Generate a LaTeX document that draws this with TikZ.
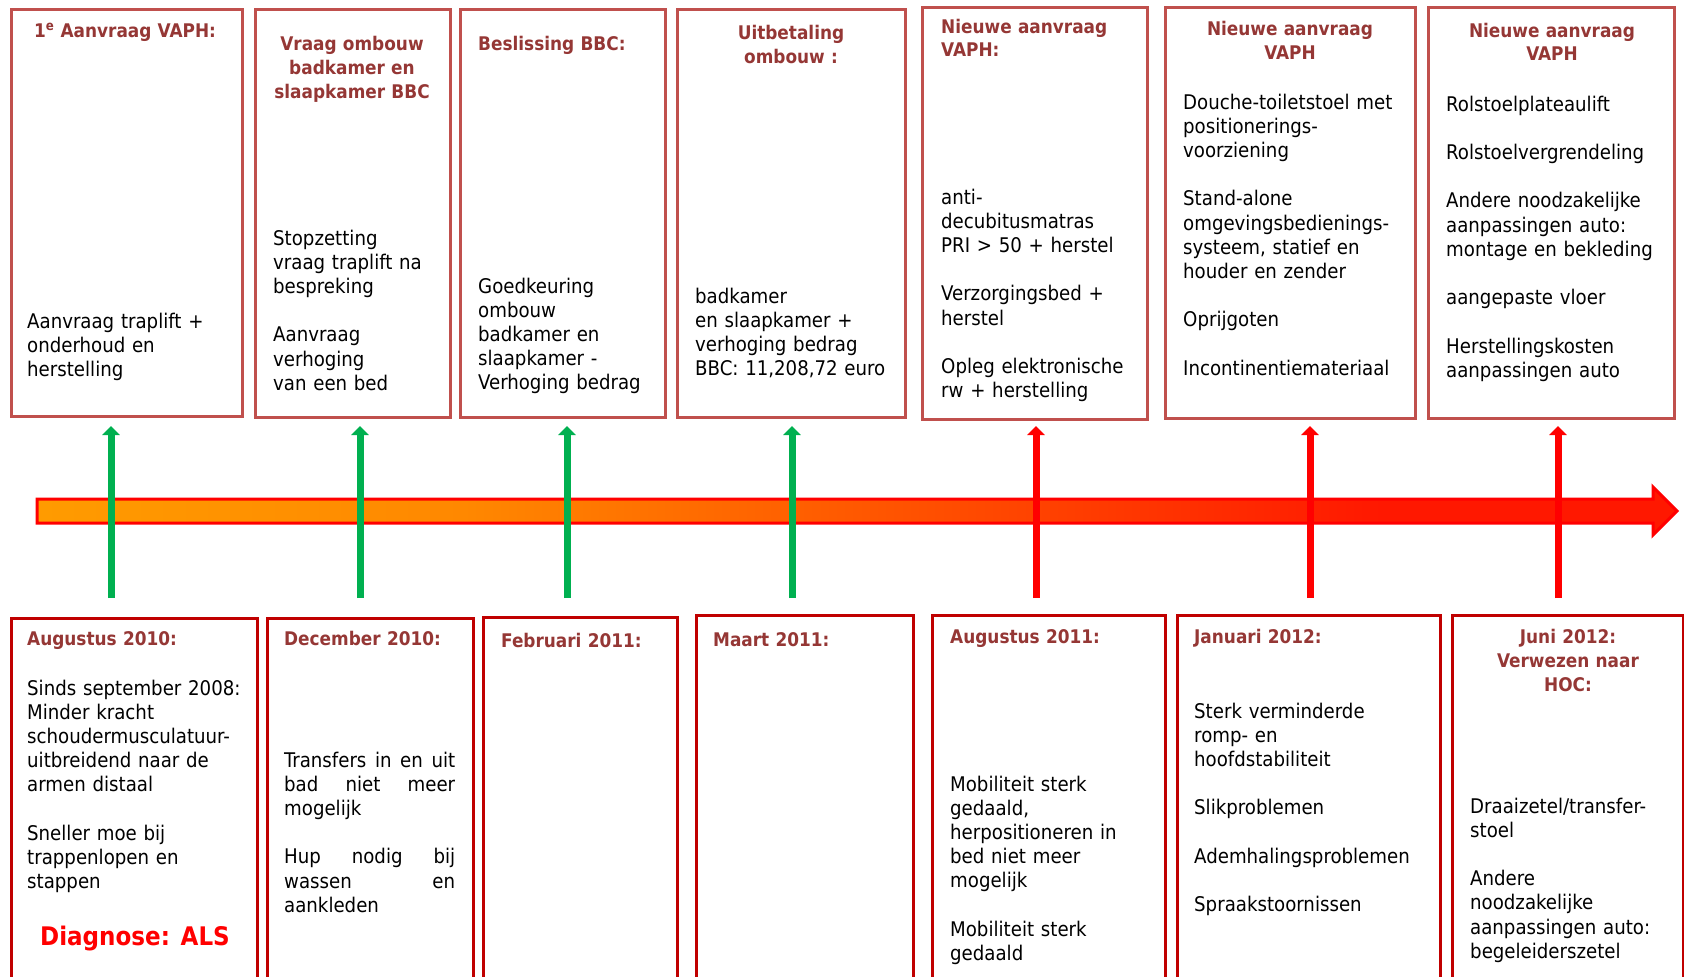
\documentclass[tikz,border=0pt]{standalone}
\usepackage{fontspec}
\setmainfont{DejaVu Sans Condensed}
\usetikzlibrary{arrows.meta}
\definecolor{topred}{HTML}{C0504D}
\definecolor{botred}{HTML}{C00000}
\definecolor{hdrred}{HTML}{953735}
\definecolor{agreen}{HTML}{00B050}
\definecolor{ared}{HTML}{FF0000}
\definecolor{barY}{HTML}{FFC000}
\definecolor{barO}{HTML}{FF8800}
\definecolor{barR}{HTML}{FF1800}
\pgfdeclarehorizontalshading{barshade}{100bp}{color(0bp)=(barY); color(38bp)=(barO); color(66bp)=(barR); color(100bp)=(barR)}
\begin{document}
\begin{tikzpicture}[x=1pt,y=-1pt,
  box/.style={draw, line width=3pt, anchor=north west, inner sep=0pt, outer sep=0pt, rectangle},
  topbox/.style={box, draw=topred},
  botbox/.style={box, draw=botred},
  hdrL/.style={inner sep=0pt, anchor=base west, text=hdrred, align=left, text width=230pt,
    font=\fontsize{18.8}{24}\selectfont\bfseries},
  hdrC/.style={inner sep=0pt, anchor=base, text=hdrred, align=center, text width=240pt,
    font=\fontsize{18.8}{24}\selectfont\bfseries},
  body/.style={inner sep=0pt, anchor=base west, align=left, text width=240pt,
    font=\fontsize{20.2}{24.2}\selectfont},
  garrow/.style={draw=agreen, line width=7pt, -{Triangle[width=17pt,length=9pt]}},
  rarrow/.style={draw=ared, line width=7pt, -{Triangle[width=17pt,length=9pt]}},
]
\useasboundingbox (0,0) rectangle (1684,977);
\clip (0,0) rectangle (1684,977);
\def\gap{\\[24.2pt]}

% ---------- top boxes ----------
\node[topbox, minimum width=231pt, minimum height=407pt] (tb1) at (11,9) {};
\node[topbox, minimum width=195pt, minimum height=408pt] (tb2) at (255,9) {};
\node[topbox, minimum width=205pt, minimum height=408pt] (tb3) at (460,9) {};
\node[topbox, minimum width=228pt, minimum height=408pt] (tb4) at (677,9) {};
\node[topbox, minimum width=225pt, minimum height=412pt] (tb5) at (922,7) {};
\node[topbox, minimum width=250pt, minimum height=411pt] (tb6) at (1165,7) {};
\node[topbox, minimum width=246pt, minimum height=411pt] (tb7) at (1428,7) {};

% ---------- bottom boxes ----------
\node[botbox, minimum width=246pt, minimum height=420pt] (bb1) at (11,618) {};
\node[botbox, minimum width=206pt, minimum height=420pt] (bb2) at (267,618) {};
\node[botbox, minimum width=194pt, minimum height=420pt] (bb3) at (483,617) {};
\node[botbox, minimum width=217pt, minimum height=420pt] (bb4) at (696,615) {};
\node[botbox, minimum width=233pt, minimum height=420pt] (bb5) at (932,615) {};
\node[botbox, minimum width=263pt, minimum height=420pt] (bb6) at (1177,615) {};
\node[botbox, minimum width=231pt, minimum height=420pt] (bb7) at (1452,615) {};

% ---------- timeline ----------
\shade[shading=barshade, draw=ared, line width=3pt, line join=miter]
  (37,499) -- (1653,499) -- (1653,487) -- (1677,511) -- (1653,535) -- (1653,523) -- (37,523) -- cycle;

% ---------- vertical arrows ----------
\foreach \n/\x in {1/111,2/360,3/567,4/792,5/1036,6/1310,7/1558}{
  \coordinate (a\n b) at (\x,598);
  \coordinate (a\n t) at (\x,426);
}
\draw[garrow] (a1b) -- (a1t);
\draw[garrow] (a2b) -- (a2t);
\draw[garrow] (a3b) -- (a3t);
\draw[garrow] (a4b) -- (a4t);
\draw[rarrow] (a5b) -- (a5t);
\draw[rarrow] (a6b) -- (a6t);
\draw[rarrow] (a7b) -- (a7t);

% ---------- top texts ----------
\node[hdrC] (th1) at (125,37) {1\textsuperscript{e} Aanvraag VAPH:};
\node[body] (tt1) at (27,328) {Aanvraag traplift +\\onderhoud en\\herstelling};

\node[hdrC] (th2) at (352,50) {Vraag ombouw\\badkamer en\\slaapkamer BBC};
\node[body] (tt2) at (273,245) {Stopzetting\\vraag traplift na\\bespreking\gap Aanvraag\\verhoging\\van een bed};

\node[hdrL] (th3) at (478,50) {Beslissing BBC:};
\node[body] (tt3) at (478,293) {Goedkeuring\\ombouw\\badkamer en\\slaapkamer -\\Verhoging bedrag};

\node[hdrC] (th4) at (791,39) {Uitbetaling\\ombouw :};
\node[body] (tt4) at (695,303) {badkamer\\en slaapkamer +\\verhoging bedrag\\BBC: 11,208,72 euro};

\node[hdrL] (th5) at (941,33) {Nieuwe aanvraag\\VAPH:};
\node[body] (tt5) at (941,204) {anti-\\decubitusmatras\\PRI > 50 + herstel\gap Verzorgingsbed +\\herstel\gap Opleg elektronische\\rw + herstelling};

\node[hdrC] (th6) at (1290,35) {Nieuwe aanvraag\\VAPH};
\node[body] (tt6) at (1183,109) {Douche-toiletstoel met\\positionerings-\\voorziening\gap Stand-alone\\omgevingsbedienings-\\systeem, statief en\\houder en zender\gap Oprijgoten\gap Incontinentiemateriaal};

\node[hdrC] (th7) at (1552,37) {Nieuwe aanvraag\\VAPH};
\node[body] (tt7) at (1446,111) {Rolstoelplateaulift\gap Rolstoelvergrendeling\gap Andere noodzakelijke\\aanpassingen auto:\\montage en bekleding\gap aangepaste vloer\gap Herstellingskosten\\aanpassingen auto};

% ---------- bottom texts ----------
\node[hdrL] (bh1) at (27,645) {Augustus 2010:};
\node[body] (bt1) at (27,695) {Sinds september 2008:\\Minder kracht\\schoudermusculatuur-\\uitbreidend naar de\\armen distaal\gap Sneller moe bij\\trappenlopen en\\stappen};
\node[inner sep=0pt, anchor=base west, text=ared, font=\fontsize{25.6}{30}\selectfont\bfseries] (diag) at (40,945) {Diagnose: ALS};

\node[hdrL] (bh2) at (284,645) {December 2010:};
\node[body, text width=171pt] (bt2) at (284,767) {Transfers\hfill in\hfill en\hfill uit\\bad\hfill niet\hfill meer\\mogelijk\gap Hup\hfill nodig\hfill bij\\wassen\hfill en\\aankleden};

\node[hdrL] (bh3) at (501,647) {Februari 2011:};
\node[hdrL] (bh4) at (713,646) {Maart 2011:};

\node[hdrL] (bh5) at (950,643) {Augustus 2011:};
\node[body] (bt5) at (950,791) {Mobiliteit sterk\\gedaald,\\herpositioneren in\\bed niet meer\\mogelijk\gap Mobiliteit sterk\\gedaald};

\node[hdrL] (bh6) at (1194,643) {Januari 2012:};
\node[body] (bt6) at (1194,718) {Sterk verminderde\\romp- en\\hoofdstabiliteit\gap Slikproblemen\gap Ademhalingsproblemen\gap Spraakstoornissen};

\node[hdrC] (bh7) at (1568,643) {Juni 2012:\\Verwezen naar\\HOC:};
\node[body] (bt7) at (1470,813) {Draaizetel/transfer-\\stoel\gap Andere\\noodzakelijke\\aanpassingen auto:\\begeleiderszetel};
\end{tikzpicture}
\end{document}
